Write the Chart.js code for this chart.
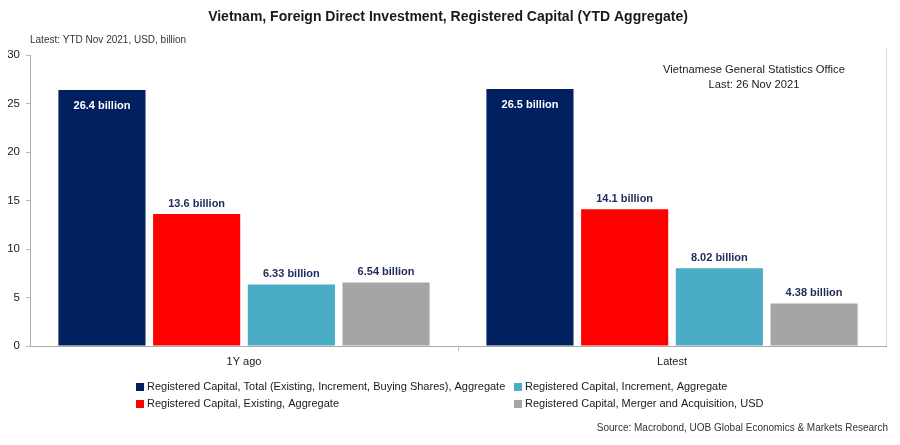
<!DOCTYPE html>
<html>
<head>
<meta charset="utf-8">
<script src="https://cdn.jsdelivr.net/npm/chart.js@4.4.0/dist/chart.umd.min.js"></script>
<style>
  html, body { margin: 0; padding: 0; background: #fff; }
</style>
</head>
<body>
<canvas id="myChart" width="900" height="445"></canvas>
<script>
// categories + series
const categories = ['1Y ago', 'Latest']
const seriesNames = [
  'Registered Capital, Total (Existing, Increment, Buying Shares), Aggregate',
  'Registered Capital, Existing, Aggregate',
  'Registered Capital, Increment, Aggregate',
  'Registered Capital, Merger and Acquisition, USD'
]
const totalVals = [26.4, 26.5]
const existingVals = [13.6, 14.1]
const incrementVals = [6.33, 8.02]
const maVals = [6.54, 4.38]
const yTicks = [0, 5, 10, 15, 20, 25, 30]
const colors = ['#002060', '#ff0000', '#4bacc6', '#a5a5a5']

const font = "'Liberation Sans', Arial, sans-serif"
const canvas = document.getElementById('myChart')
const ctx = canvas.getContext('2d')

// value labels, texts, legend
const extras = {
  id: 'extras',
  afterDatasetsDraw(chart) {
    const c = chart.ctx
    const area = chart.chartArea
    c.save()
    // right border of plot
    c.strokeStyle = '#d9d9d9'
    c.lineWidth = 1
    c.beginPath()
    c.moveTo(area.right + 0.5, area.top - 7)
    c.lineTo(area.right + 0.5, area.bottom)
    c.stroke()

    c.font = 'bold 11px ' + font
    c.textAlign = 'center'
    chart.data.datasets.forEach((ds, i) => {
      const meta = chart.getDatasetMeta(i)
      meta.data.forEach((bar, j) => {
        const txt = ds.data[j] + ' billion'
        if (i == 0) {
          c.fillStyle = '#ffffff'
          c.textBaseline = 'middle'
          c.fillText(txt, bar.x, bar.y + 16)
        } else {
          c.fillStyle = '#1f2a5a'
          c.textBaseline = 'bottom'
          c.fillText(txt, bar.x, bar.y - 5)
        }
      })
    })

    // title
    c.fillStyle = '#1a1a1a'
    c.textBaseline = 'middle'
    c.font = 'bold 14px ' + font
    c.fillText('Vietnam, Foreign Direct Investment, Registered Capital (YTD Aggregate)', 448, 17)
    // subtitle
    c.font = '10px ' + font
    c.textAlign = 'left'
    c.fillStyle = '#333'
    c.fillText('Latest: YTD Nov 2021, USD, billion', 30, 40)
    // note
    c.textAlign = 'center'
    c.font = '11.2px ' + font
    c.fillStyle = '#1a1a1a'
    c.fillText('Vietnamese General Statistics Office', 754, 70)
    c.fillText('Last: 26 Nov 2021', 754, 85)

    // legend, two columns
    const leg = [[0, 136, 387], [2, 514, 387], [1, 136, 404], [3, 514, 404]]
    c.font = '11px ' + font
    c.textAlign = 'left'
    leg.forEach(([k, x, y]) => {
      c.fillStyle = colors[k]
      c.fillRect(x, y - 4, 8, 8)
      c.fillStyle = '#1a1a1a'
      c.fillText(seriesNames[k], x + 11, y)
    })
    // source
    c.textAlign = 'right'
    c.font = '10px ' + font
    c.fillStyle = '#333'
    c.fillText('Source: Macrobond, UOB Global Economics & Markets Research', 888, 428)
    c.restore()
  }
}

const allVals = [totalVals, existingVals, incrementVals, maVals]

new Chart(ctx, {
  type: 'bar',
  data: {
    labels: categories,
    datasets: allVals.map((v, i) => ({
      label: seriesNames[i],
      data: v,
      backgroundColor: colors[i],
      barPercentage: 0.92,
      categoryPercentage: 0.885
    }))
  },
  options: {
    responsive: false,
    animation: false,
    devicePixelRatio: 1,
    layout: { padding: { top: 55, right: 14, left: 0, bottom: 0 } },
    plugins: {
      legend: { display: false },
      title: { display: false },
      tooltip: { enabled: false }
    },
    scales: {
      x: {
        afterFit(s) { s.height = 99 },
        grid: {
          offset: true, drawOnChartArea: false, drawTicks: true, tickLength: 5,
          color: (g) => g.index == 1 ? '#bbb' : 'rgba(0,0,0,0)'
        },
        border: { display: true, color: '#aaa', dash: [1, 1] },
        ticks: { color: '#1a1a1a', font: { family: font, size: 11 }, padding: 4 }
      },
      y: {
        min: 0,
        max: 30,
        afterFit(s) { s.width = 30 },
        afterBuildTicks(s) { s.ticks = yTicks.map(v => ({ value: v })) },
        grid: { drawOnChartArea: false, drawTicks: true, tickLength: 4, color: '#bbb' },
        border: { display: true, color: '#aaa', dash: [1, 1] },
        ticks: { color: '#1a1a1a', font: { family: font, size: 11.5 }, padding: 6 }
      }
    }
  },
  plugins: [extras]
})
</script>
</body>
</html>
